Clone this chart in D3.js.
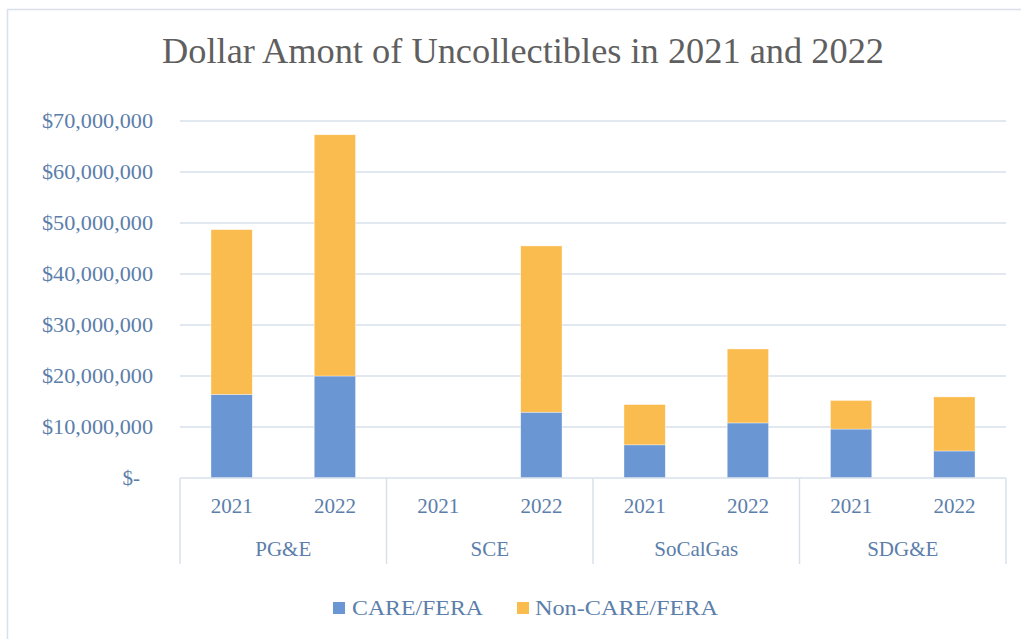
<!DOCTYPE html>
<html>
<head>
<meta charset="utf-8">
<script src="https://cdn.jsdelivr.net/npm/d3@7"></script>
<style>
  html, body { margin: 0; padding: 0; background: #fff; }
  svg { display: block; }
  text { font-family: "Liberation Serif", "DejaVu Serif", serif; }
</style>
</head>
<body>
<svg id="chart" width="1021" height="639"></svg>
<script>
// ---- data ----
const utilities = ["PG&E", "SCE", "SoCalGas", "SDG&E"];
const years = ["2021", "2022"];
const seriesNames = ["CARE/FERA", "Non-CARE/FERA"];
// values in dollars, ordered utility-by-utility, 2021 then 2022
const careValues    = [16400000, 20000000, 0, 12900000, 6500000, 10800000, 9600000, 5300000];
const nonCareValues = [32300000, 47300000, 0, 32600000, 7900000, 14500000, 5600000, 10600000];
const yTicks = [0, 10000000, 20000000, 30000000, 40000000, 50000000, 60000000, 70000000];
const titleText = "Dollar Amont of Uncollectibles in 2021 and 2022";

// ---- build table ----
const rows = [];
utilities.forEach((u, i) => years.forEach((yr, j) => {
  const k = i * years.length + j;
  rows.push({ utility: u, year: yr, "CARE/FERA": careValues[k], "Non-CARE/FERA": nonCareValues[k] });
}));

const svg = d3.select("#chart");
const colors = { "CARE/FERA": "#6a96d3", "Non-CARE/FERA": "#fbbc4f" };
const labelColor = "#5b7eaa";
const gridColor = "#d9e0ea";

// chart frame
svg.append("path")
  .attr("d", "M7.5,639 L7.5,9.5 L1021,9.5")
  .attr("fill", "none").attr("stroke", gridColor).attr("stroke-width", 1.5);

// title
svg.append("text")
  .attr("x", 162).attr("y", 63)
  .attr("font-size", 36).attr("fill", "#5f5f5f")
  .attr("textLength", 722).attr("lengthAdjust", "spacingAndGlyphs")
  .text(titleText);

const plotLeft = 180, plotRight = 1006, plotTop = 121, plotBottom = 478;

const x0 = d3.scaleBand().domain(utilities).range([plotLeft, plotRight]).padding(0);
const x1 = d3.scaleBand().domain(years).range([0, x0.bandwidth()]).paddingInner(0.6).paddingOuter(0.3);
const y = d3.scaleLinear().domain([0, 70000000]).range([plotBottom, plotTop]);

// gridlines
svg.append("g").selectAll("line").data(yTicks.filter(t => t > 0)).join("line")
  .attr("x1", plotLeft).attr("x2", plotRight)
  .attr("y1", d => y(d)).attr("y2", d => y(d))
  .attr("stroke", gridColor).attr("stroke-width", 1.5);

// y axis labels
const fmt = d3.format(",");
svg.append("g").selectAll("text").data(yTicks).join("text")
  .attr("x", d => d === 0 ? 140 : 153)
  .attr("y", d => y(d))
  .attr("dy", "0.35em")
  .attr("text-anchor", "end")
  .attr("font-size", 21).attr("fill", labelColor)
  .each(function(d) { if (d !== 0) d3.select(this).attr("textLength", 111).attr("lengthAdjust", "spacingAndGlyphs"); })
  .text(d => d === 0 ? "$-" : "$" + fmt(d));

// stacked bars
const stack = d3.stack().keys(seriesNames);
const stacked = stack(rows);
svg.append("g").selectAll("g").data(stacked).join("g")
  .attr("fill", s => colors[s.key])
  .selectAll("rect").data(s => s).join("rect")
  .attr("x", d => x0(d.data.utility) + x1(d.data.year))
  .attr("width", x1.bandwidth())
  .attr("y", d => y(d[1]))
  .attr("height", d => y(d[0]) - y(d[1]))
  .attr("stroke", "#ffffff").attr("stroke-width", 0.6).attr("stroke-opacity", 0.6);

// x axis baseline and category separators
svg.append("line")
  .attr("x1", plotLeft).attr("x2", plotRight).attr("y1", plotBottom).attr("y2", plotBottom)
  .attr("stroke", gridColor).attr("stroke-width", 1.5);
const seps = utilities.map(u => x0(u)).concat([plotRight]);
svg.append("g").selectAll("line").data(seps).join("line")
  .attr("x1", d => d).attr("x2", d => d)
  .attr("y1", plotBottom).attr("y2", 564)
  .attr("stroke", gridColor).attr("stroke-width", 1.5);

// year labels
svg.append("g").selectAll("text").data(rows).join("text")
  .attr("x", d => x0(d.utility) + x1(d.year) + x1.bandwidth() / 2)
  .attr("y", 513)
  .attr("text-anchor", "middle")
  .attr("font-size", 21).attr("fill", labelColor)
  .text(d => d.year);

// utility labels
svg.append("g").selectAll("text").data(utilities).join("text")
  .attr("x", d => x0(d) + x0.bandwidth() / 2)
  .attr("y", 556)
  .attr("text-anchor", "middle")
  .attr("font-size", 21).attr("fill", labelColor)
  .text(d => d);

// legend
const legendPos = [{ sx: 333, tx: 352, w: 131 }, { sx: 517, tx: 535, w: 183 }];
const lg = svg.append("g").selectAll("g").data(seriesNames).join("g");
lg.append("rect")
  .attr("x", (d, i) => legendPos[i].sx).attr("y", 602)
  .attr("width", 12).attr("height", 12)
  .attr("fill", d => colors[d]);
lg.append("text")
  .attr("x", (d, i) => legendPos[i].tx).attr("y", 615)
  .attr("font-size", 22).attr("fill", labelColor)
  .attr("textLength", (d, i) => legendPos[i].w).attr("lengthAdjust", "spacingAndGlyphs")
  .text(d => d);
</script>
</body>
</html>
